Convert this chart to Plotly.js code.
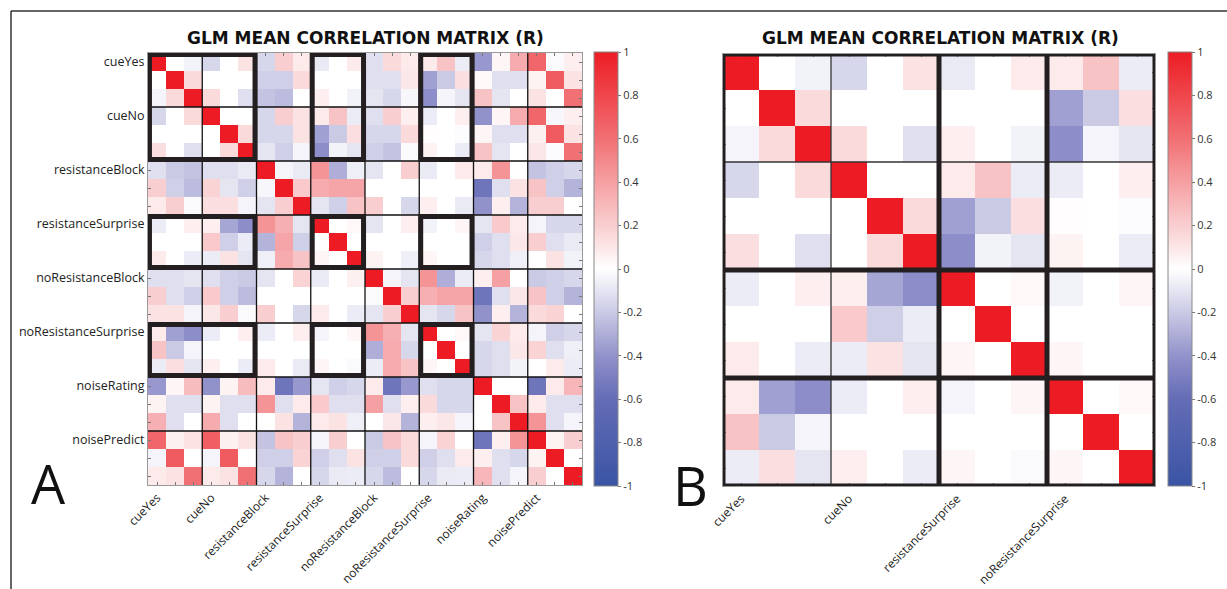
<!DOCTYPE html>
<html>
<head>
<meta charset="utf-8">
<script src="https://cdn.plot.ly/plotly-3.0.1.min.js"></script>
<style>html,body{margin:0;padding:0;background:#fff;}#chart{width:1227px;height:589px;}</style>
</head>
<body>
<div id="chart"></div>
<script>
// ---- data ----
const groupsA = ['cueYes','cueNo','resistanceBlock','resistanceSurprise','noResistanceBlock','noResistanceSurprise','noiseRating','noisePredict'];
const groupsB = ['cueYes','cueNo','resistanceSurprise','noResistanceSurprise'];
const regressorsPerGroup = 3;
// mean correlation matrix (R), 24 x 24
const corrA = [
 [1,0,-0.05,-0.15,0,0.12,-0.15,0.2,0.08,-0.08,0,0.08,-0.12,0.15,0.08,0.08,0.25,-0.07,-0.38,0.04,0.35,0.65,-0.02,0.07],
 [0,1,0.15,0,0,0,-0.18,-0.18,0.15,0,0,0,-0.12,-0.12,0.1,-0.35,-0.2,0.13,0.02,-0.12,-0.12,0.05,0.7,0.12],
 [-0.04,0.15,1,0.15,0,-0.12,-0.22,-0.25,0,0.07,0,-0.05,-0.1,-0.15,-0.03,-0.42,-0.04,-0.1,0.25,-0.1,0,0.12,0,0.6],
 [-0.15,0,0.15,1,0,0,-0.15,0.2,0.12,0.08,0.25,-0.07,-0.12,0.2,0.07,-0.07,0,0.07,-0.4,0.04,0.35,0.65,-0.03,0.07],
 [0,0,0,0,1,0.15,-0.15,-0.15,0.12,-0.35,-0.2,0.13,-0.15,-0.15,0.15,0.01,0,-0.01,0.04,-0.12,-0.12,0.06,0.7,0.12],
 [0.13,0,-0.12,0,0.15,1,-0.1,-0.18,-0.04,-0.42,-0.05,-0.1,-0.18,-0.22,-0.02,0.05,0,-0.07,0.25,-0.1,0,0.1,-0.01,0.6],
 [-0.12,-0.2,-0.22,-0.12,-0.12,-0.08,1,-0.04,-0.08,0.45,-0.3,-0.06,-0.1,0,0.2,-0.08,0,0.08,0.08,0.45,0,-0.22,-0.18,-0.15],
 [0.2,-0.18,-0.25,0.18,-0.1,-0.18,-0.03,1,0.22,0.35,0.38,0.38,0,0,0,0,0,0,-0.55,-0.12,0.12,0.25,-0.18,-0.28],
 [0.08,0.2,-0.02,0.13,0.13,-0.04,-0.1,0.2,1,-0.1,-0.18,0.25,0.2,0,-0.15,0.07,0,-0.08,-0.4,0.07,-0.28,0.2,0.2,0],
 [-0.07,0,0.07,0.07,-0.33,-0.42,0.45,0.33,-0.1,1,0,0.03,-0.1,0,0.07,-0.05,0,0.04,-0.1,0.22,0.08,-0.04,-0.15,-0.15],
 [0,0,0,0.22,-0.18,-0.07,-0.28,0.38,-0.18,0,1,0,0,0,0,0,0,0,-0.18,-0.12,0.1,0.2,-0.12,-0.08],
 [0.08,0,-0.07,-0.07,0.12,-0.1,-0.06,0.35,0.25,0.04,0,1,0.05,0,-0.06,0.04,0,0,-0.15,-0.12,-0.06,0,0.12,-0.05],
 [-0.12,-0.12,-0.1,-0.12,-0.18,-0.2,-0.1,0,0.18,-0.08,0,0.06,1,-0.04,-0.1,0.45,-0.3,-0.07,0.07,0.4,0,-0.2,-0.18,-0.15],
 [0.2,-0.12,-0.18,0.22,-0.18,-0.25,0,0,0,0,0,0,-0.02,1,0.2,0.33,0.38,0.38,-0.55,-0.12,0.1,0.25,-0.18,-0.28],
 [0.12,0.12,-0.04,0.1,0.2,-0.02,0.2,0,-0.15,0.08,0,-0.07,-0.1,0.2,1,-0.1,-0.15,0.25,-0.4,0.07,-0.28,0.15,0.18,0],
 [0.08,-0.35,-0.42,-0.07,0,0.07,-0.07,0,0.07,-0.04,0,0.04,0.45,0.33,-0.1,1,0,0.03,-0.1,0.18,0.08,-0.04,-0.18,-0.15],
 [0.25,-0.2,-0.04,0,0,0,0,0,0,0,0,0,-0.3,0.35,-0.15,0,1,0,-0.15,-0.12,0.1,0.18,-0.12,-0.06],
 [-0.07,0.13,-0.1,0.07,0,-0.07,0.08,0,-0.08,0.04,0,-0.02,-0.07,0.35,0.25,0.04,0,1,-0.15,-0.12,-0.05,0,0.08,-0.07],
 [-0.38,0.04,0.28,-0.4,0.05,0.28,0.08,-0.55,-0.38,-0.1,-0.18,-0.15,0.08,-0.55,-0.38,-0.12,-0.15,-0.15,1,0,0,-0.55,0.08,0.3],
 [0.05,-0.12,-0.12,0.05,-0.12,-0.12,0.45,-0.12,0.08,0.22,-0.12,-0.12,0.4,-0.12,0.07,0.15,-0.15,-0.15,0,1,0.25,0.08,-0.12,-0.12],
 [0.33,-0.12,0,0.35,-0.12,0,0,0.12,-0.28,0.08,0.12,-0.06,0,0.1,-0.28,0.07,0.1,-0.04,0,0.25,1,0.45,-0.12,-0.04],
 [0.65,0.06,0.12,0.68,0.06,0.12,-0.22,0.25,0.2,-0.04,0.2,0,-0.2,0.25,0.15,-0.04,0.18,0,-0.55,0.07,0.45,1,0.05,0.2],
 [-0.04,0.7,0,-0.04,0.7,0,-0.18,-0.18,0.18,-0.18,-0.12,0.12,-0.18,-0.18,0.15,-0.18,-0.12,0.08,0.07,-0.12,-0.15,0.05,1,0],
 [0.08,0.12,0.6,0.08,0.12,0.6,-0.15,-0.28,0,-0.15,-0.08,-0.07,-0.15,-0.25,0,-0.15,-0.08,-0.07,0.3,-0.12,-0.04,0.2,0,1]
];
// panel B uses the regressors of these groups of panel A
const groupsInB = [0,1,3,5];
// groups outlined with thick boxes in panel A
const highlightedGroupsA = [[0,1],[3],[5]];
const cbTickVals = [-1,-0.8,-0.6,-0.4,-0.2,0,0.2,0.4,0.6,0.8,1];
const cbTickText = ['-1','-0.8','-0.6','-0.4','-0.2','0','0.2','0.4','0.6','0.8','1'];

// ---- build ----
const W = 1227, H = 589;
const nA = groupsA.length*regressorsPerGroup;
const idxB = [];
groupsInB.forEach(g => { for (let k=0;k<regressorsPerGroup;k++) idxB.push(g*regressorsPerGroup+k); });
const corrB = idxB.map(i => idxB.map(j => corrA[i][j]));
const nB = idxB.length;

function range(n){ return Array.from({length:n},(_,i)=>i); }
function tickText(groups, n){ return range(n).map(i => i%regressorsPerGroup===0 ? groups[i/regressorsPerGroup] : ''); }

const colorscale = [
 [0,'rgb(58,84,164)'],[0.2,'rgb(100,108,182)'],[0.3,'rgb(146,146,203)'],[0.4,'rgb(202,202,229)'],
 [0.5,'rgb(255,255,255)'],[0.6,'rgb(249,206,208)'],[0.7,'rgb(245,160,163)'],[0.8,'rgb(241,112,116)'],[1,'rgb(237,28,36)']
];
function cb(xpx){
  return {x:xpx/W, xanchor:'left', xpad:0, ypad:0, thickness:24, thicknessmode:'pixels',
    len:434/H, lenmode:'fraction', y:1-269/H, yanchor:'middle',
    outlinewidth:1, outlinecolor:'#888', tickmode:'array', tickvals:cbTickVals, ticktext:cbTickText,
    ticks:'outside', ticklen:3, tickcolor:'#777', tickfont:{family:'Open Sans, sans-serif', size:11, color:'#333'}};
}
const traceA = {type:'heatmap', z:corrA, x:range(nA), y:range(nA), zmin:-1, zmax:1, colorscale:colorscale,
  xaxis:'x', yaxis:'y', colorbar:cb(594), hoverinfo:'skip'};
const traceB = {type:'heatmap', z:corrB, x:range(nB), y:range(nB), zmin:-1, zmax:1, colorscale:colorscale,
  xaxis:'x2', yaxis:'y2', colorbar:cb(1168), hoverinfo:'skip'};

function ax(domain, n, groups, showLabels, isY){
  const a = {domain:domain, range: isY ? [n-0.5,-0.5] : [-0.5,n-0.5], tickmode:'array', tickvals:range(n),
    ticktext: showLabels ? tickText(groups,n) : range(n).map(()=>''), ticks:'inside', ticklen:3, tickcolor:'#777',
    showline:true, linecolor:'#999', linewidth:1, mirror:'ticks', showgrid:false, zeroline:false,
    tickfont:{family:'Open Sans, sans-serif', size: isY ? 12.5 : 12, color:'#222'}, automargin:false, fixedrange:true};
  if (!isY) a.tickangle = -45;
  return a;
}

const shapes = [];
// frame
shapes.push({type:'line', xref:'paper', yref:'paper', x0:11/W, x1:1, y0:1-11/H, y1:1-11/H, line:{color:'#333', width:1.5}});
shapes.push({type:'line', xref:'paper', yref:'paper', x0:11/W, x1:11/W, y0:1-11/H, y1:0, line:{color:'#333', width:1.5}});
// panel A thin group lines
for (let g=1; g<groupsA.length; g++){
  const p = g*regressorsPerGroup-0.5;
  shapes.push({type:'line', xref:'x', yref:'y', x0:p, x1:p, y0:-0.5, y1:nA-0.5, line:{color:'#111', width:1.3}});
  shapes.push({type:'line', xref:'x', yref:'y', y0:p, y1:p, x0:-0.5, x1:nA-0.5, line:{color:'#111', width:1.3}});
}
// panel A thick boxes
const ins = 0.08;
highlightedGroupsA.forEach(rg => highlightedGroupsA.forEach(cg => {
  const r0 = rg[0]*regressorsPerGroup-0.5, r1 = (rg[rg.length-1]+1)*regressorsPerGroup-0.5;
  const c0 = cg[0]*regressorsPerGroup-0.5, c1 = (cg[cg.length-1]+1)*regressorsPerGroup-0.5;
  shapes.push({type:'rect', xref:'x', yref:'y', x0:c0+ins, x1:c1-ins, y0:r0+ins, y1:r1-ins, line:{color:'#231f20', width:5}});
}));
// panel B lines
for (let g=1; g<groupsB.length; g++){
  const p = g*regressorsPerGroup-0.5;
  const w = g===1 ? 1.3 : 5, c = g===1 ? '#333' : '#231f20';
  shapes.push({type:'line', xref:'x2', yref:'y2', x0:p, x1:p, y0:-0.5, y1:nB-0.5, line:{color:c, width:w}});
  shapes.push({type:'line', xref:'x2', yref:'y2', y0:p, y1:p, x0:-0.5, x1:nB-0.5, line:{color:c, width:w}});
}
shapes.push({type:'rect', xref:'x2', yref:'y2', x0:-0.5, x1:nB-0.5, y0:-0.5, y1:nB-0.5, line:{color:'#231f20', width:5}});

const titleFont = {family:'DejaVu Sans, sans-serif', size:17, color:'#111', weight:'bold'};
const annotations = [
  {text:'GLM MEAN CORRELATION MATRIX (R)', xref:'paper', yref:'paper', x:365/W, y:1-38/H, showarrow:false, font:titleFont, xanchor:'center', yanchor:'middle'},
  {text:'GLM MEAN CORRELATION MATRIX (R)', xref:'paper', yref:'paper', x:940/W, y:1-38/H, showarrow:false, font:titleFont, xanchor:'center', yanchor:'middle'},
  {text:'A', xref:'paper', yref:'paper', x:49/W, y:1-483/H, showarrow:false, font:{family:'Open Sans, sans-serif', size:54, color:'#111'}, xanchor:'center', yanchor:'middle'},
  {text:'B', xref:'paper', yref:'paper', x:690/W, y:1-485/H, showarrow:false, font:{family:'Open Sans, sans-serif', size:54, color:'#111'}, xanchor:'center', yanchor:'middle'}
];

const layout = {
  width:W, height:H, margin:{l:0,r:0,t:0,b:0}, paper_bgcolor:'#fff', plot_bgcolor:'#fff', showlegend:false,
  xaxis: Object.assign(ax([148/W, 582/W], nA, groupsA, true, false), {anchor:'y'}),
  yaxis: Object.assign(ax([1-485/H, 1-53/H], nA, groupsA, true, true), {anchor:'x'}),
  xaxis2: Object.assign(ax([723/W, 1155/W], nB, groupsB, true, false), {anchor:'y2'}),
  yaxis2: Object.assign(ax([1-486/H, 1-54/H], nB, groupsB, false, true), {anchor:'x2'}),
  shapes:shapes, annotations:annotations
};
Plotly.newPlot('chart', [traceA, traceB], layout, {displayModeBar:false, staticPlot:true});
</script>
</body>
</html>
